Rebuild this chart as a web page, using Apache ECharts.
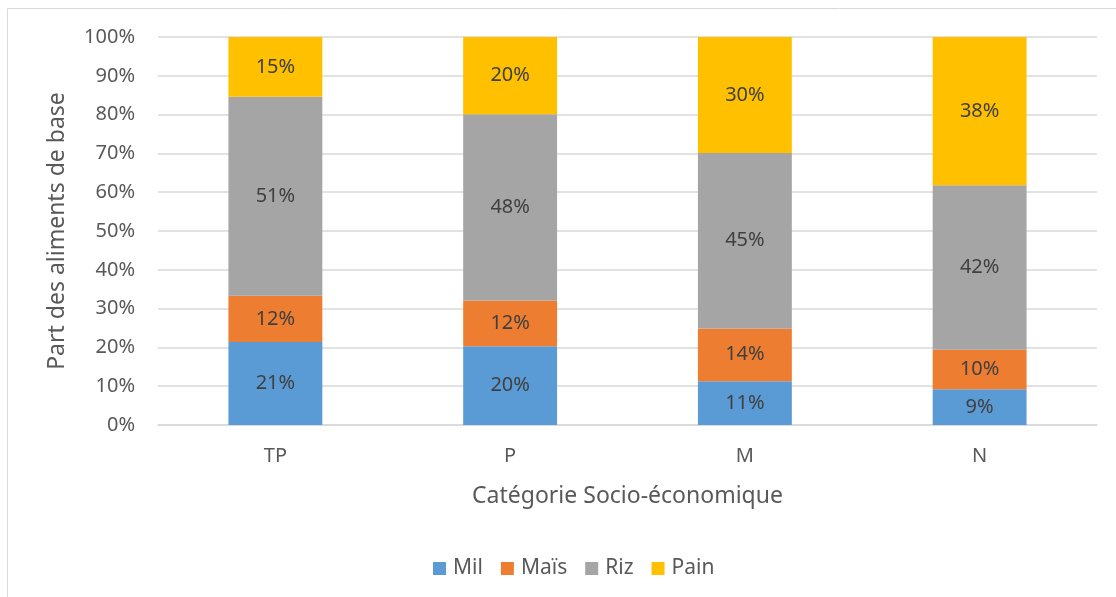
<!DOCTYPE html>
<html>
<head>
<meta charset="utf-8">
<script src="https://cdn.jsdelivr.net/npm/echarts@6/dist/echarts.min.js"></script>
<style>
html,body{margin:0;padding:0;background:#fff;}
#chart{width:1116px;height:597px;}
</style>
</head>
<body>
<div id="chart"></div>
<script>
var categories = ['TP', 'P', 'M', 'N'];
var milValues  = [21.4, 20.3, 11.3, 9.2];
var maisValues = [11.9, 11.8, 13.6, 10.2];
var rizValues  = [51.3, 48.0, 45.2, 42.4];
var painValues = [15.4, 19.9, 29.9, 38.2];
var seriesNames = ['Mil', 'Maïs', 'Riz', 'Pain'];
var yTicks = [0, 10, 20, 30, 40, 50, 60, 70, 80, 90, 100];

var FONT = 'Noto Sans';
var colors = ['#5B9BD5', '#ED7D31', '#A5A5A5', '#FFC000'];
var valueSets = [milValues, maisValues, rizValues, painValues];

var chart = echarts.init(document.getElementById('chart'), null, {renderer: 'canvas'});

var series = seriesNames.map(function (name, i) {
  return {
    name: name,
    type: 'bar',
    stack: 'total',
    barWidth: '40%',
    data: valueSets[i],
    itemStyle: {color: colors[i]},
    label: {
      show: true,
      position: 'inside',
      color: '#404040',
      fontFamily: FONT,
      fontSize: 20,
      formatter: function (p) { return Math.round(p.value) + '%'; }
    },
    emphasis: {disabled: true}
  };
});

chart.setOption({
  animation: false,
  textStyle: {fontFamily: FONT},
  graphic: [{
    type: 'rect',
    shape: {x: 7.5, y: 8.5, width: 1200, height: 700},
    style: {fill: 'none', stroke: '#d9d9d9', lineWidth: 1},
    silent: true,
    z: -1
  }],
  grid: {left: 158, right: 19, top: 37, bottom: 172, containLabel: false},
  legend: {
    data: seriesNames,
    left: 428,
    top: 553,
    itemWidth: 13,
    itemHeight: 13,
    itemGap: 18,
    icon: 'rect',
    textStyle: {color: '#595959', fontFamily: FONT, fontSize: 21, padding: [0, 0, 0, 2]}
  },
  xAxis: {
    type: 'category',
    data: categories,
    name: 'Catégorie Socio-économique',
    nameLocation: 'middle',
    nameGap: 60,
    nameTextStyle: {color: '#595959', fontFamily: FONT, fontSize: 23},
    axisLine: {show: true, lineStyle: {color: '#d9d9d9', width: 1.5}},
    axisTick: {show: false},
    axisLabel: {color: '#595959', fontFamily: FONT, fontSize: 20, margin: 21}
  },
  yAxis: {
    type: 'value',
    min: 0,
    max: 100,
    interval: 10,
    name: 'Part des aliments de base',
    nameLocation: 'middle',
    nameGap: 89,
    nameTextStyle: {color: '#595959', fontFamily: FONT, fontSize: 23},
    axisLine: {show: false},
    axisTick: {show: false},
    splitLine: {lineStyle: {color: '#d9d9d9', width: 1.5}},
    axisLabel: {
      color: '#595959', fontFamily: FONT, fontSize: 20, margin: 23,
      customValues: yTicks,
      formatter: function (v) { return v + '%'; }
    }
  },
  series: series
});
</script>
</body>
</html>
